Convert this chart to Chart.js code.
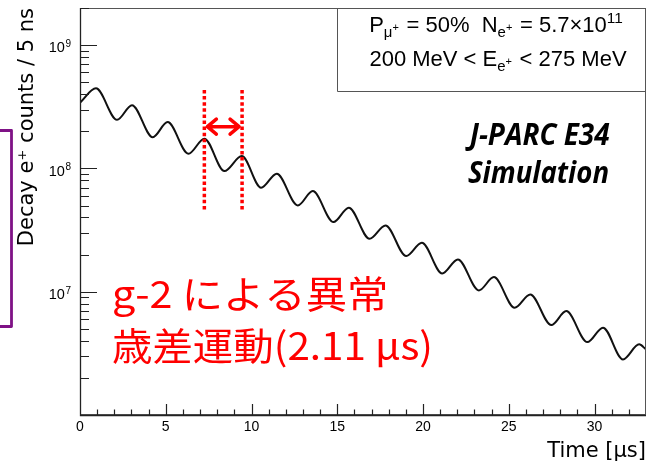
<!DOCTYPE html>
<html><head><meta charset="utf-8">
<script src="https://cdn.jsdelivr.net/npm/chart.js@4.4.1/dist/chart.umd.min.js"></script>
<style>html,body{margin:0;padding:0;background:#fff;}#wrap{width:652px;height:464px;position:relative;}</style>
</head><body><div id="wrap"><canvas id="c" width="652" height="464"></canvas></div>
<script>
// ---- data ----
const timeUs = [0, 0.93, 2.16, 3.03, 4.24, 5.11, 6.32, 7.25, 8.42, 9.43, 10.56, 11.47, 12.70, 13.57, 14.78, 15.67, 16.88, 17.81, 19.02, 19.93, 21.12, 22.03, 23.26, 24.13, 25.34, 26.25, 27.48, 28.35, 29.58, 30.49, 31.66, 32.6, 33];
const counts = [3.41e8, 4.46e8, 2.48e8, 3.26e8, 1.79e8, 2.375e8, 1.316e8, 1.741e8, 9.51e7, 1.259e8, 6.97e7, 9.06e7, 5.01e7, 6.55e7, 3.67e7, 4.80e7, 2.69e7, 3.45e7, 1.945e7, 2.495e7, 1.407e7, 1.828e7, 1.025e7, 1.313e7, 7.42e6, 9.51e6, 5.36e6, 6.96e6, 3.90e6, 5.11e6, 2.825e6, 3.74e6, 3.40e6];
const xTickValues = [0, 5, 10, 15, 20, 25, 30];
const xTickLabels = ['0', '5', '10', '15', '20', '25', '30'];
const yTickValues = [1e7, 1e8, 1e9];
const yTickBase = '10';
const yTickExps = ['7', '8', '9'];
const xTitle = 'Time [\u00b5s]';
const yTitle = 'Decay e\u207a counts / 5 ns';
const periodMarks = [7.25, 9.45];
const infoLine1 = [['P','n'],['\u03bc','sub'],['+','ss'],[' = 50%  N','n'],['e','sub'],['+','ss'],[' = 5.7\u00d710','n'],['11','sup']];
const infoLine2 = [['200 MeV < E','n'],['e','sub'],['+','ss'],[' < 275 MeV','n']];
const labLines = ['J-PARC E34', 'Simulation'];
const noteLines = ['g-2 \u306b\u3088\u308b\u7570\u5e38', '\u6b73\u5dee\u904b\u52d5(2.11 \u03bcs)'];

const XMIN = 0, XMAX = 33, YMIN = 1e6, YMAX = 2e9;

function drawRich(ctx, segs, cx, baseline, size, family, color) {
  const conf = {n:{s:1,dy:0}, sub:{s:0.68,dy:0.22}, ss:{s:0.5,dy:-0.06}, sup:{s:0.7,dy:-0.42}};
  const w = segs.map(([t,k]) => { ctx.font = (size*conf[k].s) + 'px "' + family + '"'; return ctx.measureText(t).width + (k === 'ss' ? 1.5 : 0); });
  const total = w.reduce((a,b)=>a+b,0);
  let x = cx - total/2;
  ctx.fillStyle = color; ctx.textAlign = 'left'; ctx.textBaseline = 'alphabetic';
  segs.forEach(([t,k],i) => {
    ctx.font = (size*conf[k].s) + 'px "' + family + '"';
    ctx.fillText(t, x, baseline + conf[k].dy*size);
    x += w[i];
  });
}
function fitText(ctx, text, x, baseline, width, font, color, align) {
  ctx.save();
  ctx.font = font; ctx.fillStyle = color; ctx.textBaseline = 'alphabetic'; ctx.textAlign = 'left';
  const m = ctx.measureText(text);
  const ink = m.actualBoundingBoxRight + m.actualBoundingBoxLeft;
  const sx = width / ink;
  let left = align === 'center' ? x - width/2 : x;
  ctx.translate(left, baseline);
  ctx.scale(sx, 1);
  ctx.fillText(text, m.actualBoundingBoxLeft, 0);
  ctx.restore();
}

const overlay = {
  id: 'overlay',
  afterDraw(chart) {
    const ctx = chart.ctx, a = chart.chartArea, xs = chart.scales.x, ys = chart.scales.y;
    ctx.save();
    // frame
    ctx.strokeStyle = '#555'; ctx.lineWidth = 1;
    ctx.strokeRect(a.left + 0.5, a.top + 0.5, a.right - a.left - 1, a.bottom - a.top - 1);
    ctx.strokeStyle = '#222'; ctx.lineWidth = 1.3;
    ctx.beginPath(); ctx.moveTo(a.left + 0.5, a.top); ctx.lineTo(a.left + 0.5, a.bottom + 0.5); ctx.lineTo(a.right, a.bottom + 0.5); ctx.stroke();
    // y ticks (inward)
    ctx.lineWidth = 1.2; ctx.strokeStyle = '#222';
    ctx.beginPath();
    for (let e = 6; e <= 9; e++) {
      for (let m = 1; m <= 9; m++) {
        const v = m * Math.pow(10, e);
        if (v <= YMIN * 1.001 || v > YMAX) continue;
        const py = Math.round(ys.getPixelForValue(v)) + 0.5;
        const len = m === 1 ? 17 : 9;
        ctx.moveTo(a.left, py); ctx.lineTo(a.left + len, py);
      }
    }
    // x ticks (inward)
    for (let t = XMIN + 1; t < XMAX; t++) {
      const px = Math.round(xs.getPixelForValue(t)) + 0.5;
      const len = t % 5 === 0 ? 11 : 5.5;
      ctx.moveTo(px, a.bottom); ctx.lineTo(px, a.bottom - len);
    }
    ctx.stroke();

    // y tick labels 10^n
    ctx.fillStyle = '#000'; ctx.textBaseline = 'alphabetic';
    yTickValues.forEach((v, i) => {
      const py = ys.getPixelForValue(v);
      ctx.font = '10px "Liberation Sans"'; ctx.textAlign = 'right';
      const ew = ctx.measureText(yTickExps[i]).width;
      ctx.fillText(yTickExps[i], 71, py + 1.8);
      ctx.font = '14.5px "Liberation Sans"';
      ctx.fillText(yTickBase, 71 - ew - 0.5, py + 7.3);
    });

    // info box
    ctx.strokeStyle = '#555'; ctx.lineWidth = 1;
    ctx.beginPath(); ctx.moveTo(337.5, a.top); ctx.lineTo(337.5, 91.5); ctx.lineTo(a.right, 91.5); ctx.stroke();
    drawRich(ctx, infoLine1, 496, 32, 22, 'Liberation Sans', '#000');
    drawRich(ctx, infoLine2, 498, 66, 22, 'Liberation Sans', '#000');

    // J-PARC label
    fitText(ctx, labLines[0], 537.5, 145, 145, 'italic bold 30px "Open Sans"', '#000', 'center');
    fitText(ctx, labLines[1], 538, 183, 140, 'italic bold 30px "Open Sans"', '#000', 'center');

    // period markers
    const x1 = xs.getPixelForValue(periodMarks[0]), x2 = xs.getPixelForValue(periodMarks[1]);
    ctx.strokeStyle = '#ff0000'; ctx.lineWidth = 3.5; ctx.setLineDash([3.5, 2.6]);
    ctx.beginPath(); ctx.moveTo(x1, 90); ctx.lineTo(x1, 212); ctx.moveTo(x2, 90); ctx.lineTo(x2, 212); ctx.stroke();
    ctx.setLineDash([]);
    const ay = 126.7;
    ctx.lineWidth = 3.5; ctx.lineCap = 'round'; ctx.lineJoin = 'round';
    ctx.beginPath();
    ctx.moveTo(x1 + 3, ay); ctx.lineTo(x2 - 3, ay);
    ctx.moveTo(x1 + 12, ay - 7.5); ctx.lineTo(x1 + 3, ay); ctx.lineTo(x1 + 12, ay + 7.5);
    ctx.moveTo(x2 - 12, ay - 7.5); ctx.lineTo(x2 - 3, ay); ctx.lineTo(x2 - 12, ay + 7.5);
    ctx.stroke();
    ctx.lineCap = 'butt';

    // red note
    fitText(ctx, noteLines[0], 113, 308, 272, '38px "Noto Sans CJK JP"', '#ff0000', 'left');
    fitText(ctx, noteLines[1], 113, 360, 317, '38px "Noto Sans CJK JP"', '#ff0000', 'left');

    // purple bracket
    ctx.strokeStyle = '#7f1286'; ctx.lineWidth = 2.8;
    ctx.beginPath(); ctx.moveTo(0, 130.5); ctx.lineTo(11.5, 130.5); ctx.lineTo(11.5, 326.5); ctx.lineTo(0, 326.5); ctx.stroke();
    ctx.restore();
  }
};

new Chart(document.getElementById('c'), {
  type: 'line',
  data: { datasets: [{
    data: timeUs.map((t, i) => ({ x: t, y: counts[i] })),
    borderColor: '#111', borderWidth: 2, pointRadius: 0,
    cubicInterpolationMode: 'monotone', fill: false
  }]},
  options: {
    responsive: false, animation: false, devicePixelRatio: 1,
    layout: { padding: { top: 8, right: 6, left: 0, bottom: 0 } },
    plugins: { legend: { display: false }, tooltip: { enabled: false } },
    scales: {
      x: {
        type: 'linear', min: XMIN, max: XMAX, position: 'bottom',
        grid: { display: false, drawTicks: false }, border: { display: false },
        afterBuildTicks: s => { s.ticks = xTickValues.map(v => ({ value: v })); },
        afterFit: s => { s.height = 49; },
        ticks: { autoSkip: false, maxRotation: 0, padding: 4, color: '#000',
          font: { family: 'Liberation Sans', size: 14 },
          callback: (v, i) => xTickLabels[i] },
        title: { display: true, text: xTitle, align: 'end', color: '#000',
          font: { family: 'DejaVu Sans', size: 21 }, padding: { top: 0, bottom: 0 } }
      },
      y: {
        type: 'logarithmic', min: YMIN, max: YMAX, position: 'left',
        grid: { display: false, drawTicks: false }, border: { display: false },
        afterBuildTicks: s => { s.ticks = yTickValues.map(v => ({ value: v })); },
        afterFit: s => { s.width = 80; },
        ticks: { display: false },
        title: { display: true, text: yTitle, align: 'end', color: '#000',
          font: { family: 'DejaVu Sans', size: 21 }, padding: { top: 15, bottom: 0 } }
      }
    }
  },
  plugins: [overlay]
});
</script></body></html>
